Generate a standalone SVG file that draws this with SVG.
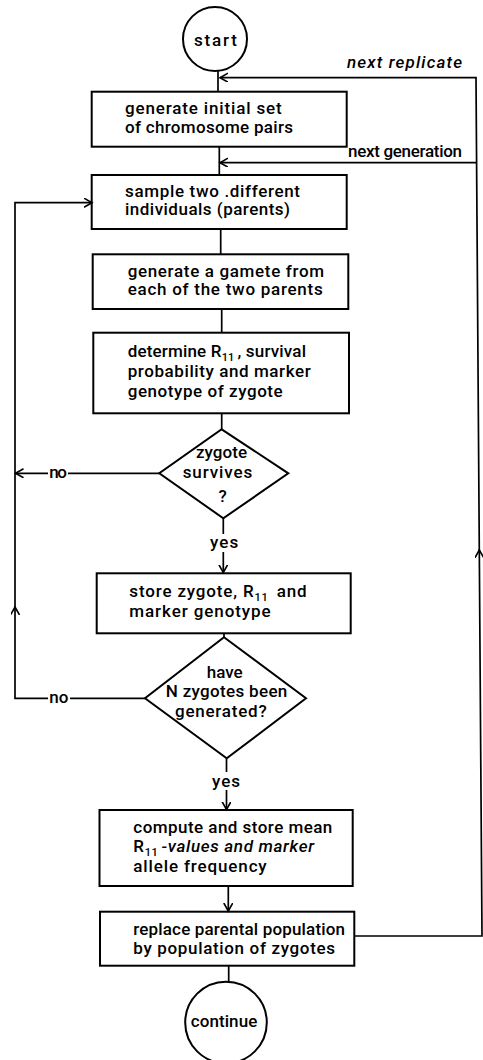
<svg xmlns="http://www.w3.org/2000/svg" width="483" height="1060" viewBox="0 0 483 1060">
<defs>
<style>
.shape{fill:none;stroke:#000;stroke-width:2}
.conn{fill:none;stroke:#000;stroke-width:1.7}
text{font-family:Roboto,"Liberation Sans",sans-serif;font-size:17px;font-weight:500;fill:#000}
.it{font-style:italic}
.sub{font-size:11px}
</style>
<marker id="arr" markerUnits="userSpaceOnUse" markerWidth="12" markerHeight="12" refX="8" refY="4.5" orient="auto">
<path d="M0,0 L8,4.5 L0,9" fill="none" stroke="#000" stroke-width="1.6"/>
</marker>
</defs>
<rect width="483" height="1060" fill="#fff"/>

<g id="connectors">
<path class="conn" d="M218,71 L218,91.7"/>
<path class="conn" d="M219.3,146.7 L219.3,175"/>
<path class="conn" d="M220.7,229 L220.7,254.3"/>
<path class="conn" d="M221.7,309 L221.7,332.7"/>
<path class="conn" d="M221.7,413.3 L221.7,429.3"/>
<path class="conn" d="M223.3,518.3 L223.3,534"/>
<path class="conn" d="M223.3,552 L223.3,572.5" marker-end="url(#arr)"/>
<path class="conn" d="M224,633.3 L224,637.3"/>
<path class="conn" d="M226.5,758.3 L226.5,772"/>
<path class="conn" d="M226.5,790 L226.5,809.5" marker-end="url(#arr)"/>
<path class="conn" d="M228.3,886 L228.3,911" marker-end="url(#arr)"/>
<path class="conn" d="M228.7,966 L228.7,981.7"/>
<path class="conn" d="M159.3,473.3 L68,473.3"/>
<path class="conn" d="M48,473.3 L15.5,473.3" marker-end="url(#arr)"/>
<path class="conn" d="M145,698.3 L70,698.3"/>
<path class="conn" d="M48,698.3 L15,698.3 L15,607" marker-end="url(#arr)"/>
<path class="conn" d="M15,607 L15,202.7 L92,202.7" marker-end="url(#arr)"/>
<path class="conn" d="M354.3,936 L482,936 L479.3,550" marker-end="url(#arr)"/>
<path class="conn" d="M479.3,550 L476,77.7 L220,77.7" marker-end="url(#arr)"/>
<path class="conn" d="M476.6,162.7 L220,162.7" marker-end="url(#arr)"/>
<text x="347" y="68" textLength="115" class="it">next replicate</text>
<text x="348" y="157" textLength="114">next generation</text>
<text x="49.3" y="477.5" textLength="17.5">no</text>
<text x="49.3" y="702.5" textLength="19">no</text>
<text x="210" y="548.3" textLength="28.3">yes</text>
<text x="212" y="786.7" textLength="28">yes</text>
</g>

<g id="start">
<circle class="shape" cx="215" cy="39" r="32"/>
<text x="194" y="46" textLength="43">start</text>
</g>

<g id="init">
<rect class="shape" x="91.7" y="91.7" width="255" height="55"/>
<text x="125" y="114.3" textLength="156.7">generate initial set</text>
<text x="125" y="133.3" textLength="168">of chromosome pairs</text>
</g>

<g id="sample">
<rect class="shape" x="91.7" y="175" width="255" height="54"/>
<text x="125" y="196.7" textLength="175">sample two .different</text>
<text x="125" y="215" textLength="165">individuals (parents)</text>
</g>

<g id="gamete">
<rect class="shape" x="92.7" y="254.3" width="255.6" height="54.7"/>
<text x="127.7" y="277.3" textLength="196.3">generate a gamete from</text>
<text x="127.7" y="295" textLength="195">each of the two parents</text>
</g>

<g id="determine">
<rect class="shape" x="93.3" y="332.7" width="255.7" height="80.6"/>
<text x="127.7" y="356.7" textLength="178.3">determine R<tspan class="sub" dy="4">11</tspan><tspan dy="-4" dx="3">, survival</tspan></text>
<text x="127.7" y="377.3" textLength="183">probability and marker</text>
<text x="127.7" y="396.5" textLength="155">genotype of zygote</text>
</g>

<g id="survives">
<polygon class="shape" points="221.7,429.3 288.3,473.3 223.3,518.3 159.3,473.3"/>
<text x="196" y="458.3" textLength="51">zygote</text>
<text x="182.7" y="478.3" textLength="69.6">survives</text>
<text x="222.7" y="501.7" text-anchor="middle">?</text>
</g>

<g id="store">
<rect class="shape" x="96.7" y="573.3" width="254" height="60"/>
<text x="129.3" y="596.7" textLength="177.4">store zygote, R<tspan class="sub" dy="4">11</tspan><tspan dy="-4" dx="3"> and</tspan></text>
<text x="129.3" y="616.5" textLength="141.4">marker genotype</text>
</g>

<g id="enough">
<polygon class="shape" points="224,637.3 306,698.3 226.7,758.3 145,698.3"/>
<text x="206.7" y="678.3" textLength="36">have</text>
<text x="165.7" y="696.7" textLength="121.6">N zygotes been</text>
<text x="175" y="717.3" textLength="91.7">generated?</text>
</g>

<g id="compute">
<rect class="shape" x="99.5" y="810" width="253.2" height="76"/>
<text x="133.3" y="833" textLength="199">compute and store mean</text>
<text x="133.3" y="851.5" textLength="180.7">R<tspan class="sub" dy="4">11</tspan><tspan dy="-4" dx="3" class="it">-values and marker</tspan></text>
<text x="133.3" y="871.5" textLength="133.4">allele frequency</text>
</g>

<g id="replace">
<rect class="shape" x="100" y="911.7" width="254.3" height="54"/>
<text x="133.3" y="935" textLength="211.7">replace parental population</text>
<text x="133.3" y="954" textLength="201.7">by population of zygotes</text>
</g>

<g id="continue">
<circle class="shape" cx="226" cy="1022.5" r="40.8"/>
<text x="190.7" y="1026.7" textLength="66.6">continue</text>
</g>
</svg>
